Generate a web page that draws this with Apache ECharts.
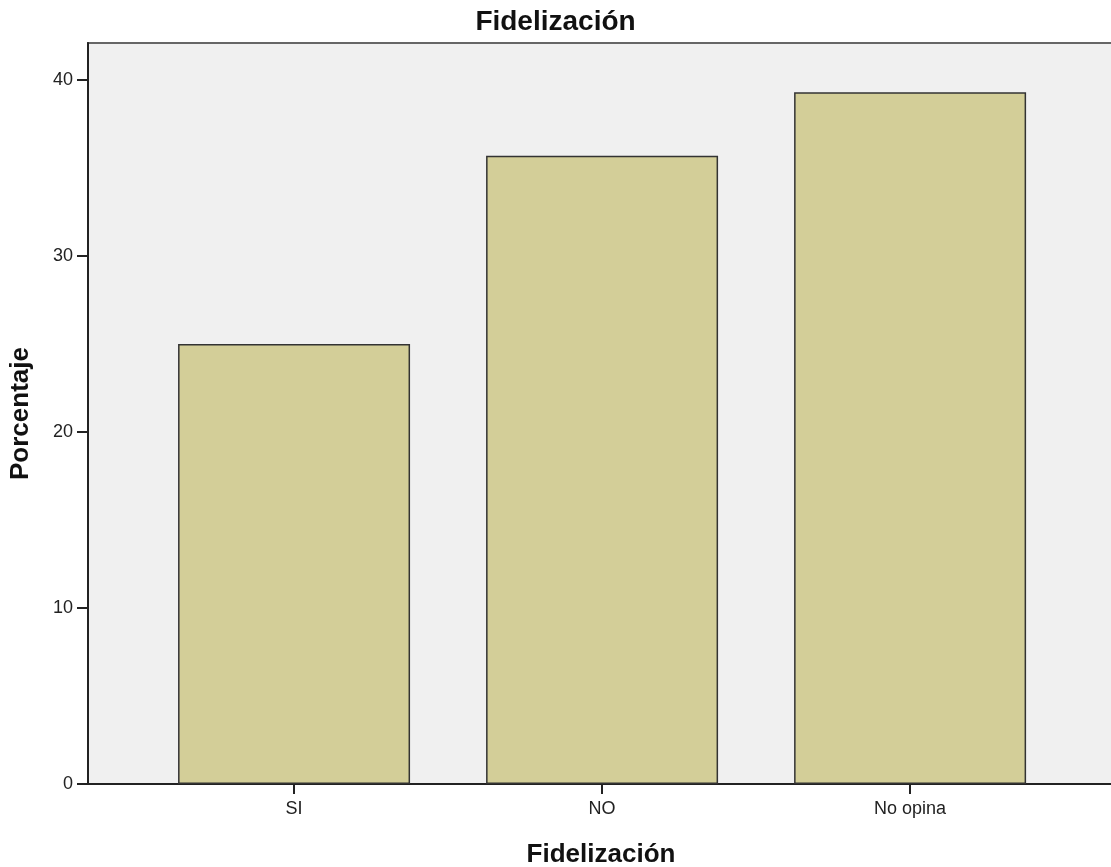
<!DOCTYPE html>
<html><head><meta charset="utf-8">
<script src="https://cdn.jsdelivr.net/npm/echarts@6/dist/echarts.min.js"></script>
<style>html,body{margin:0;padding:0;background:#fff;overflow:hidden}#c{width:1111px;height:867px}</style>
</head><body><div id="c"></div>
<script>
const categories = ['SI', 'NO', 'No opina'];
const values = [25.0, 35.7, 39.3];
const yTicks = [0, 10, 20, 30, 40];
const title = 'Fidelización';
const xTitle = 'Fidelización';
const yTitle = 'Porcentaje';

const positions = categories.map((_, i) => i);
const chart = echarts.init(document.getElementById('c'), null, {renderer: 'canvas'});
chart.setOption({
  animation: false,
  backgroundColor: '#ffffff',
  title: {
    text: title, left: 'center', top: 3,
    textStyle: {fontFamily: 'Liberation Sans', fontWeight: 'bold', fontSize: 28, color: '#111'}
  },
  grid: {
    left: 88, right: -3, top: 43, bottom: 83,
    outerBoundsMode: 'none', containLabel: false,
    show: true, backgroundColor: '#f0f0f0', borderColor: '#666', borderWidth: 2
  },
  xAxis: {
    type: 'value', min: -0.669, max: 2.662,
    name: xTitle, nameLocation: 'middle', nameGap: 58,
    nameTextStyle: {fontFamily: 'Liberation Sans', fontWeight: 'bold', fontSize: 26, color: '#111'},
    axisLine: {show: true, onZero: false, lineStyle: {color: '#222', width: 2}},
    axisTick: {show: true, length: 10, lineStyle: {color: '#222', width: 2}, customValues: positions},
    axisLabel: {
      customValues: positions, fontFamily: 'Liberation Sans', fontSize: 18, color: '#222', margin: 16,
      formatter: v => categories[Math.round(v)] ?? ''
    },
    splitLine: {show: false}
  },
  yAxis: {
    type: 'value', min: 0, max: 42.1, interval: 10,
    name: yTitle, nameLocation: 'middle', nameGap: 54,
    nameTextStyle: {fontFamily: 'Liberation Sans', fontWeight: 'bold', fontSize: 26, color: '#111'},
    axisLine: {show: true, onZero: false, lineStyle: {color: '#222', width: 2}},
    axisTick: {show: true, length: 11, lineStyle: {color: '#222', width: 2}, customValues: yTicks},
    axisLabel: {customValues: yTicks, fontFamily: 'Liberation Sans', fontSize: 18, color: '#222', margin: 15},
    splitLine: {show: false}
  },
  series: [{
    type: 'bar',
    data: values.map((v, i) => [positions[i], v]),
    barWidth: 232,
    itemStyle: {color: '#d3ce98', borderColor: '#333', borderWidth: 1.5}
  }]
});
</script></body></html>
